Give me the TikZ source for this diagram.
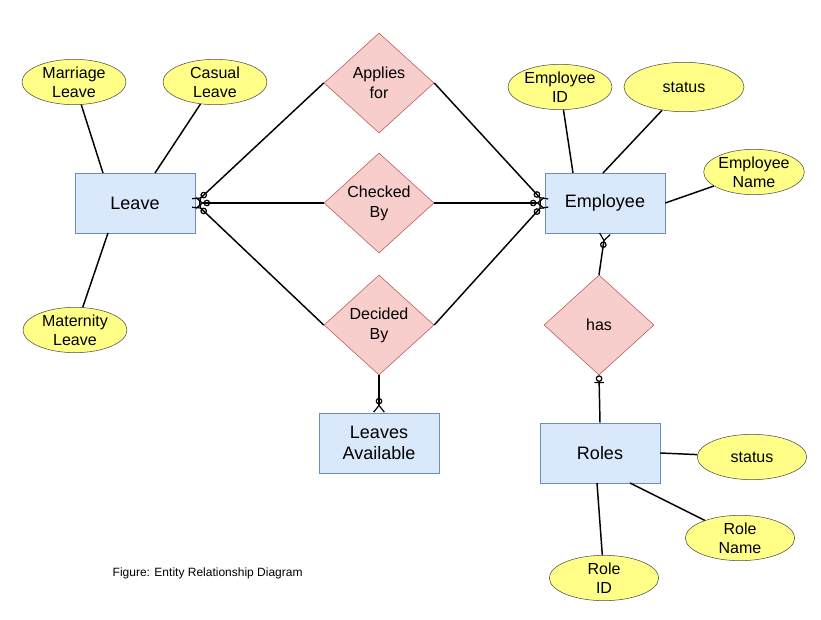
\documentclass[tikz,border=0pt]{standalone}
\usepackage{fontspec}
\setmainfont{Liberation Sans}
\usetikzlibrary{shapes.geometric,arrows.meta}
\definecolor{entfill}{RGB}{218,232,252}
\definecolor{entdraw}{RGB}{108,142,191}
\definecolor{relfill}{RGB}{248,206,204}
\definecolor{reldraw}{RGB}{184,84,80}
\definecolor{attfill}{RGB}{255,255,136}
\begin{document}
\begin{tikzpicture}[x=0.75pt,y=-0.75pt,
    entity/.style={draw=entdraw,fill=entfill,minimum width=90pt,minimum height=45pt,font=\fontsize{13.5}{16}\selectfont,align=center},
    rel/.style={diamond,draw=reldraw,fill=relfill,minimum width=82.5pt,minimum height=75pt,aspect=1.1,inner sep=0pt,font=\fontsize{12}{15}\selectfont,align=center},
    attr/.style={ellipse,draw=black!70,fill=attfill,minimum width=78pt,minimum height=34pt,inner sep=0pt,font=\fontsize{12}{14}\selectfont,align=center},
    link/.style={line width=1.1pt},
    many/.style={link,-{Circle[open,length=5pt,line width=0.9pt] Straight Barb[reversed,length=5pt,width=8pt,line width=0.9pt]}},
    one/.style={link,-{Bar[width=7pt,line width=0.9pt] Circle[open,length=5pt,line width=0.9pt]}}
]
\useasboundingbox (0,0) rectangle (821,620);
% entities
\node[entity] (leave) at (135,203) {Leave};
\node[entity] (emp) at (605,203) {Employee};
\node[entity] (avail) at (379,443) {Leaves\\Available};
\node[entity] (roles) at (600,453) {Roles};
% relationships
\node[rel] (applies) at (379,83) {Applies\\for};
\node[rel] (checked) at (379,203) {Checked\\By};
\node[rel] (decided) at (379,325) {Decided\\By};
\node[rel] (has) at (599,325) {has};
% attributes
\node[attr] (marriage) at (74,82) {Marriage\\Leave};
\node[attr] (casual) at (215,82) {Casual\\Leave};
\node[attr] (maternity) at (75,330) {Maternity\\Leave};
\node[attr] (empid) at (560,87) {Employee\\ID};
\node[attr,minimum width=90pt,minimum height=37pt] (empstatus) at (684,87) {status};
\node[attr,minimum width=72pt] (empname) at (754,172) {Employee\\Name};
\node[attr,minimum width=82pt] (rstatus) at (752,457) {status};
\node[attr,minimum width=82pt] (rname) at (740,538) {Role\\Name};
\node[attr,minimum width=82pt] (rid) at (604,578) {Role\\ID};
\node[font=\fontsize{9}{10}\selectfont,anchor=west] (caption) at (108,573) {Figure: Entity Relationship Diagram};
% attribute links
\draw[link] (marriage) -- (103,173);
\draw[link] (casual) -- (155,173);
\draw[link] (maternity) -- (108,233);
\draw[link] (empid) -- (573,173);
\draw[link] (empstatus) -- (603,173);
\draw[link] (empname) -- (emp.east);
\draw[link] (rstatus) -- (roles.east);
\draw[link] (rname) -- (630,483);
\draw[link] (rid) -- (597,483);
% relationship links
\draw[many] (applies.west) -- (leave.east);
\draw[many] (checked.west) -- (leave.east);
\draw[many] (decided.west) -- (leave.east);
\draw[many] (applies.east) -- (emp.west);
\draw[many] (checked.east) -- (emp.west);
\draw[many] (decided.east) -- (emp.west);
\draw[many] (decided.south) -- (avail.north);
\draw[many] (has.north) -- (emp.south);
\draw[one] (roles.north) -- (has.south);
\end{tikzpicture}
\end{document}
